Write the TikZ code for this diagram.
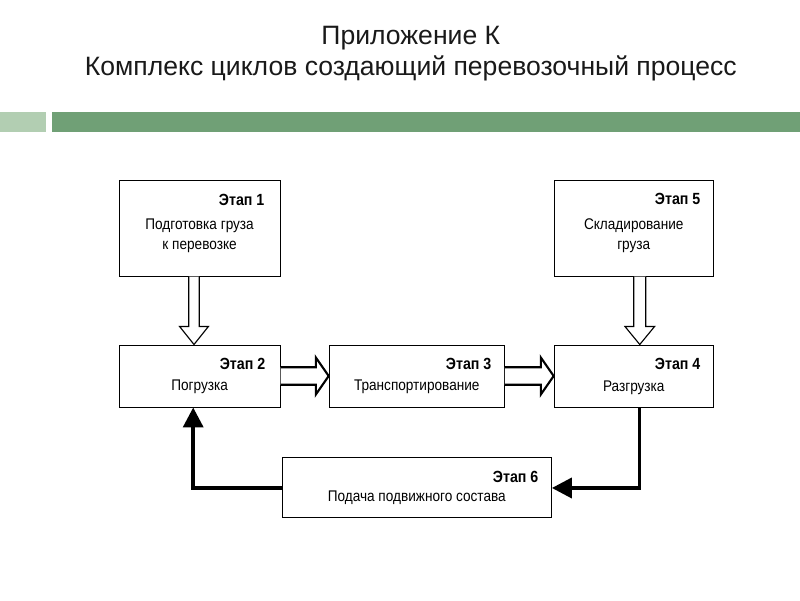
\documentclass[tikz,border=0pt]{standalone}
\usepackage{fontspec}
\setmainfont{Liberation Sans}
\newfontfamily\boxfont[FakeStretch=0.88]{Liberation Sans}
\usetikzlibrary{positioning,calc,arrows.meta}
\definecolor{barlight}{RGB}{178,206,178}
\definecolor{bardark}{RGB}{112,160,118}

\begin{document}
\begin{tikzpicture}[
    stage/.style={draw, line width=0.7pt, inner sep=0pt, minimum height=1.55cm},
    stagetag/.style={font=\boxfont\fontsize{11.5}{13}\selectfont\bfseries, anchor=base east, inner sep=0pt},
    stagetext/.style={font=\boxfont\fontsize{11}{14.2}\selectfont, align=center, anchor=north, inner sep=0pt},
    hollow/.style={draw, fill=white, line width=0.8pt, line join=miter},
    feedback/.style={draw, line width=2.6pt, -{Triangle[length=0.5cm,width=0.5cm]}},
    title/.style={font=\fontsize{18.9}{22}\selectfont, anchor=base, text=black!90}]
  \useasboundingbox (0,0) rectangle (20,15);

  % heading
  \node[title] (head1) at (10.27,13.875) {Приложение К};
  \node[title] (head2) at (10.27,13.1) {Комплекс циклов создающий перевозочный процесс};
  \fill[barlight] (0,11.7) rectangle (1.15,12.2);
  \fill[bardark] (1.3,11.7) rectangle (20,12.2);

  % stages
  \node[stage, minimum width=4.03cm] (b2) at (4.99,5.6) {};
  \node[stage, minimum width=4.38cm, right=1.2cm of b2] (b3) {};
  \node[stage, minimum width=3.98cm, right=1.22cm of b3] (b4) {};
  \node[stage, minimum width=4.03cm, minimum height=2.38cm, above=1.7cm of b2] (b1) {};
  \node[stage, minimum width=3.98cm, minimum height=2.4cm, above=1.7cm of b4] (b5) {};
  \node[stage, minimum width=6.73cm, minimum height=1.5cm, below=1.25cm of b3] (b6) {};

  \node[stagetag] (tag1) at ($(b1.north east)+(-0.4,-0.63)$) {Этап 1};
  \node[stagetag] (tag2) at ($(b2.north east)+(-0.38,-0.63)$) {Этап 2};
  \node[stagetag] (tag3) at ($(b3.north east)+(-0.33,-0.63)$) {Этап 3};
  \node[stagetag] (tag4) at ($(b4.north east)+(-0.33,-0.63)$) {Этап 4};
  \node[stagetag] (tag5) at ($(b5.north east)+(-0.33,-0.63)$) {Этап 5};
  \node[stagetag] (tag6) at ($(b6.north east)+(-0.33,-0.63)$) {Этап 6};

  \node[stagetext] (txt1) at ($(b1.north)+(0,-0.95)$) {Подготовка груза\\к перевозке};
  \node[stagetext] (txt2) at ($(b2.north)+(0,-0.88)$) {Погрузка};
  \node[stagetext] (txt3) at ($(b3.north)+(0,-0.88)$) {Транспортирование};
  \node[stagetext] (txt4) at ($(b4.north)+(0,-0.9)$) {Разгрузка};
  \node[stagetext] (txt5) at ($(b5.north)+(0,-0.98)$) {Складирование\\груза};
  \node[stagetext] (txt6) at ($(b6.north)+(0,-0.82)$) {Подача подвижного состава};

  % hollow arrows
  \coordinate (d1s) at ($(b1.south)+(-0.14,0)$);
  \coordinate (d1e) at ($(b2.north)+(-0.14,0)$);
  \draw[hollow] ($(d1s)+(-0.13,0)$) -- ($(d1e)+(-0.13,0.45)$) -- ($(d1e)+(-0.36,0.45)$) -- (d1e)
       -- ($(d1e)+(0.36,0.45)$) -- ($(d1e)+(0.13,0.45)$) -- ($(d1s)+(0.13,0)$);
  \coordinate (d5s) at ($(b5.south)+(0.15,0)$);
  \coordinate (d5e) at ($(b4.north)+(0.15,0)$);
  \draw[hollow] ($(d5s)+(-0.15,0)$) -- ($(d5e)+(-0.15,0.45)$) -- ($(d5e)+(-0.37,0.45)$) -- (d5e)
       -- ($(d5e)+(0.37,0.45)$) -- ($(d5e)+(0.15,0.45)$) -- ($(d5s)+(0.15,0)$);

  \draw[hollow, line width=1.5pt] ($(b2.east)+(0,0.22)$) -- ($(b3.west)+(-0.32,0.22)$) -- ($(b3.west)+(-0.32,0.46)$)
       -- (b3.west) -- ($(b3.west)+(-0.32,-0.46)$) -- ($(b3.west)+(-0.32,-0.22)$) -- ($(b2.east)+(0,-0.22)$);
  \draw[hollow, line width=1.5pt] ($(b3.east)+(0,0.22)$) -- ($(b4.west)+(-0.32,0.22)$) -- ($(b4.west)+(-0.32,0.46)$)
       -- (b4.west) -- ($(b4.west)+(-0.32,-0.46)$) -- ($(b4.west)+(-0.32,-0.22)$) -- ($(b3.east)+(0,-0.22)$);

  % return loop
  \draw[feedback] ($(b4.south)+(0.14,0)$) |- (b6.east);
  \draw[feedback] (b6.west) -| ($(b2.south)+(-0.16,0)$);
\end{tikzpicture}
\end{document}
